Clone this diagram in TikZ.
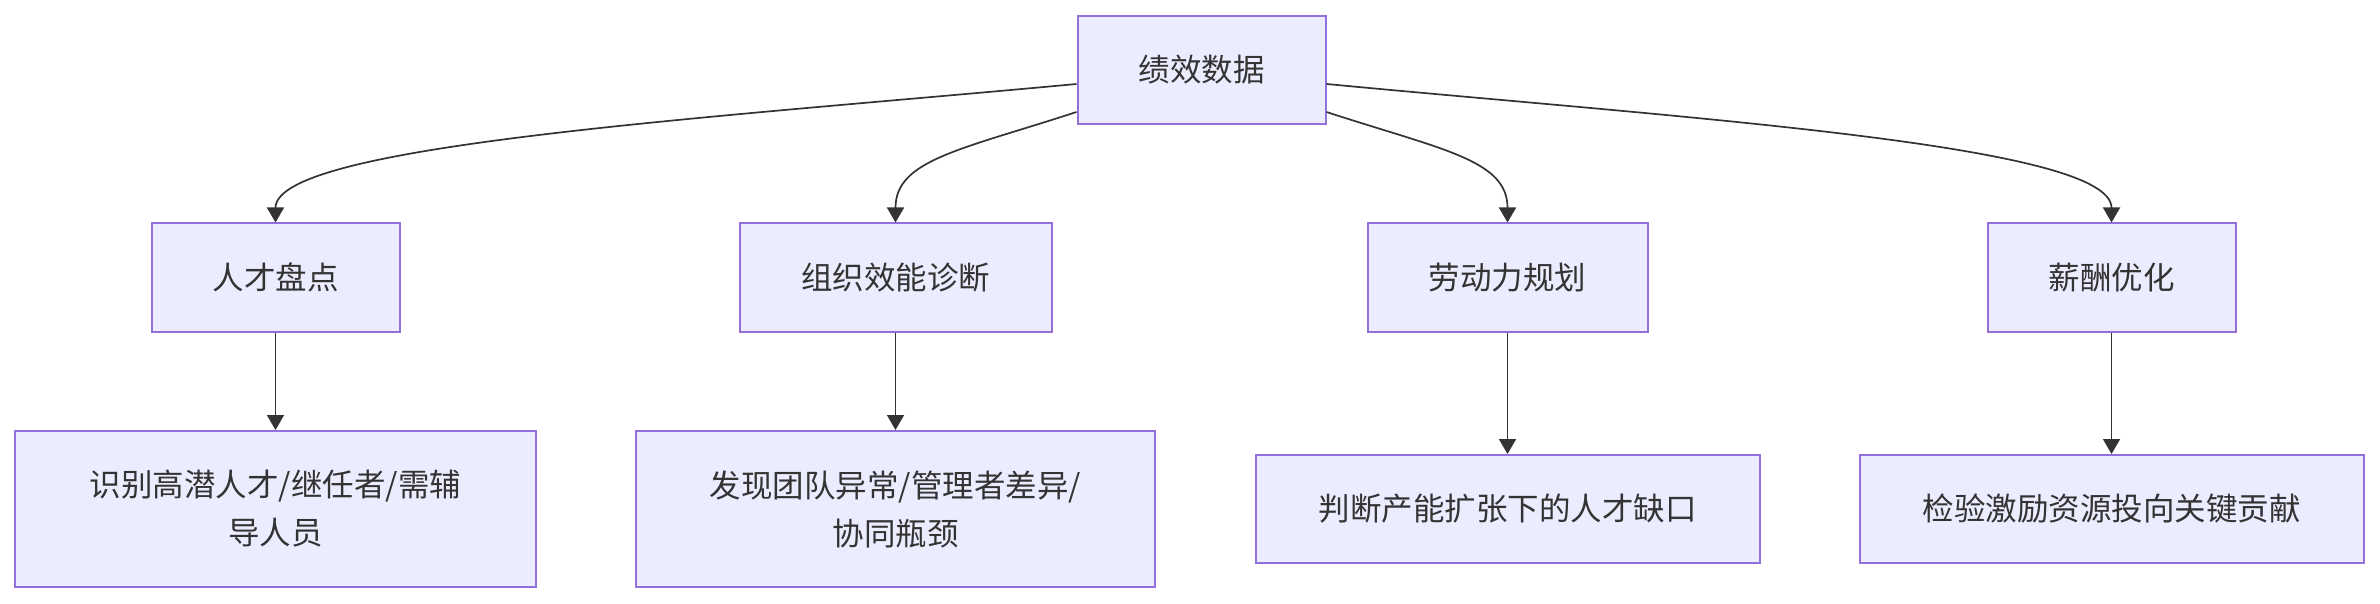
\documentclass[tikz,border=0pt]{standalone}
\usepackage{fontspec}
\setmainfont{Noto Sans CJK SC}
\usetikzlibrary{arrows.meta}
\definecolor{boxfill}{HTML}{ECECFF}
\definecolor{boxline}{HTML}{9370DB}
\definecolor{edgecol}{HTML}{333333}
\begin{document}
\begin{tikzpicture}[x=0.5pt,y=-0.5pt,
  box/.style={draw=boxline,fill=boxfill,line width=1pt,inner sep=0pt,
    font=\fontsize{15.75pt}{24pt}\selectfont,text=edgecol,align=center},
  edge/.style={draw=edgecol,line width=0.85pt,-{Triangle[length=7.5pt,width=8.5pt]}}]
\useasboundingbox (0,0) rectangle (2380,604);
% top
\node[box,minimum width=124pt,minimum height=54pt] (top) at (1201.5,70) {绩效数据};
% level 2
\node[box,minimum width=124pt,minimum height=54pt] (a) at (275.5,277.5) {人才盘点};
\node[box,minimum width=156pt,minimum height=54pt] (b) at (895.5,277.5) {组织效能诊断};
\node[box,minimum width=140pt,minimum height=54pt] (c) at (1507.5,277.5) {劳动力规划};
\node[box,minimum width=124pt,minimum height=54pt] (d) at (2111.5,277.5) {薪酬优化};
% level 3
\node[box,minimum width=260.5pt,minimum height=78pt] (a2) at (275.5,509) {识别高潜人才/继任者/需辅\\导人员};
\node[box,minimum width=259.5pt,minimum height=78pt] (b2) at (895.5,509) {发现团队异常/管理者差异/\\协同瓶颈};
\node[box,minimum width=252pt,minimum height=54pt] (c2) at (1507.5,509) {判断产能扩张下的人才缺口};
\node[box,minimum width=252pt,minimum height=54pt] (d2) at (2111.5,509) {检验激励资源投向关键贡献};
% edges from top
\coordinate (tl1) at ([yshift=-7pt]top.west);
\coordinate (tl2) at ([yshift=-21pt]top.west);
\coordinate (tr1) at ([yshift=-7pt]top.east);
\coordinate (tr2) at ([yshift=-21pt]top.east);
\draw[edge] (tl1) .. controls (700,119) and (275.5,145) .. (a.north);
\draw[edge] (tl2) .. controls (960,150) and (895.5,160) .. (b.north);
\draw[edge] (tr2) .. controls (1443,150) and (1507.5,160) .. (c.north);
\draw[edge] (tr1) .. controls (1695,119) and (2111.5,145) .. (d.north);
% vertical
\draw[edge] (a.south) -- (a2.north);
\draw[edge] (b.south) -- (b2.north);
\draw[edge] (c.south) -- (c2.north);
\draw[edge] (d.south) -- (d2.north);
\end{tikzpicture}
\end{document}
